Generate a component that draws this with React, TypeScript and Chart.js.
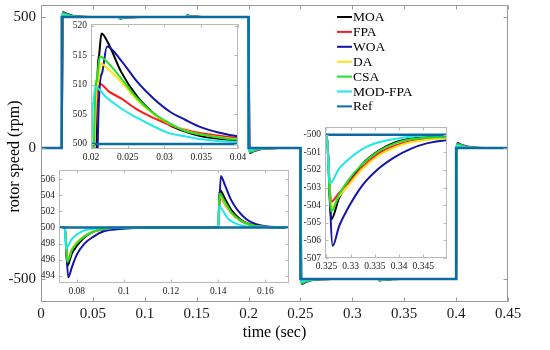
import React, { useEffect, useRef } from 'react';
import { Chart, registerables } from 'chart.js';
Chart.register(...registerables);

type P = [number, number];

const SERIF = '"Liberation Serif", "Times New Roman", serif';

const LABELS = ['MOA', 'FPA', 'WOA', 'DA', 'CSA', 'MOD-FPA', 'Ref'];
const COLORS = ['#000000', '#ff1a1a', '#1414a8', '#ffe01a', '#22e022', '#1ee8e8', '#0d6aa3'];

const X_TITLE = 'time (sec)';
const Y_TITLE = 'rotor speed (rpm)';

const MAIN_X_TICKS = [0, 0.05, 0.1, 0.15, 0.2, 0.25, 0.3, 0.35, 0.4, 0.45];
const MAIN_X_LABELS = ['0', '0.05', '0.1', '0.15', '0.2', '0.25', '0.3', '0.35', '0.4', '0.45'];
const MAIN_Y_TICKS = [-500, 0, 500];
const MAIN_Y_LABELS = ['-500', '0', '500'];

const IN1_X_TICKS = [0.02, 0.025, 0.03, 0.035, 0.04];
const IN1_X_LABELS = ['0.02', '0.025', '0.03', '0.035', '0.04'];
const IN1_Y_TICKS = [500, 505, 510, 515, 520];
const IN1_Y_LABELS = ['500', '505', '510', '515', '520'];

const IN2_X_TICKS = [0.08, 0.1, 0.12, 0.14, 0.16];
const IN2_X_LABELS = ['0.08', '0.1', '0.12', '0.14', '0.16'];
const IN2_Y_TICKS = [494, 496, 498, 500, 502, 504, 506];
const IN2_Y_LABELS = ['494', '496', '498', '500', '502', '504', '506'];

const IN3_X_TICKS = [0.325, 0.33, 0.335, 0.34, 0.345];
const IN3_X_LABELS = ['0.325', '0.33', '0.335', '0.34', '0.345'];
const IN3_Y_TICKS = [-507, -506, -505, -504, -503, -502, -501, -500];
const IN3_Y_LABELS = ['-507', '-506', '-505', '-504', '-503', '-502', '-501', '-500'];

const REF: P[] = [[0, 0], [0.02, 0], [0.02, 500], [0.2, 500], [0.2, 0], [0.25, 0], [0.25, -500], [0.4, -500], [0.4, 0], [0.45, 0]];

const MOA: P[] = [
  [0, 0], [0.02, 0], [0.0207, 499], [0.0211, 515], [0.02143, 518.7], [0.0224, 516.9], [0.0241, 512.2], [0.0263, 508.0], [0.0285, 505.2], [0.0307, 503.2], [0.0328, 502.1], [0.035, 501.3], [0.04, 500.6], [0.05, 500.1], [0.075, 500],
  [0.076, 495.2], [0.078, 496.8], [0.08, 497.7], [0.0833, 498.8], [0.0873, 499.5], [0.0912, 499.75], [0.098, 499.95], [0.14, 500],
  [0.1406, 504.7], [0.1428, 503.6], [0.1455, 502.2], [0.1494, 501.0], [0.1534, 500.4], [0.1574, 500.15], [0.165, 500.02], [0.2, 500],
  [0.2007, 1], [0.20143, -18.7], [0.2041, -12.2], [0.2085, -5.2], [0.215, -1.3], [0.23, -0.1], [0.25, 0],
  [0.2507, -499], [0.25143, -518.7], [0.2541, -512.2], [0.2585, -505.2], [0.265, -501.3], [0.28, -500.1], [0.325, -500],
  [0.326, -504.8], [0.3276, -503.6], [0.3293, -502.85], [0.3325, -501.64], [0.3358, -500.9], [0.3391, -500.43], [0.3424, -500.22], [0.35, -500.1], [0.36, -500.02], [0.4, -500],
  [0.4007, -1], [0.40143, 18.7], [0.4041, 12.2], [0.4085, 5.2], [0.415, 1.3], [0.43, 0.1], [0.45, 0],
];

const FPA: P[] = [
  [0, 0], [0.02, 0], [0.0205, 499], [0.0209, 508], [0.0212, 510.2], [0.0224, 508.9], [0.0241, 507.7], [0.0263, 505.8], [0.0285, 504.4], [0.0307, 503.2], [0.0328, 502.4], [0.035, 501.8], [0.04, 501.0], [0.045, 500.5], [0.05, 500.2], [0.06, 500.03], [0.075, 500],
  [0.0761, 496.0], [0.078, 497.3], [0.08, 498.1], [0.0833, 498.9], [0.0873, 499.5], [0.0912, 499.8], [0.1, 499.97], [0.14, 500],
  [0.1406, 503.8], [0.1428, 502.9], [0.1455, 501.8], [0.1494, 500.85], [0.1534, 500.35], [0.1574, 500.12], [0.165, 500.02], [0.2, 500],
  [0.2005, 1], [0.2012, -10.2], [0.2041, -7.7], [0.2085, -4.4], [0.215, -1.8], [0.23, -0.3], [0.25, 0],
  [0.2505, -499], [0.2512, -510.2], [0.2541, -507.7], [0.2585, -504.4], [0.265, -501.8], [0.28, -500.3], [0.325, -500],
  [0.326, -503.8], [0.3276, -503.3], [0.3293, -502.85], [0.3325, -501.83], [0.3358, -501.05], [0.3391, -500.62], [0.3424, -500.37], [0.35, -500.15], [0.36, -500.04], [0.4, -500],
  [0.4005, -1], [0.4012, 10.2], [0.4041, 7.7], [0.4085, 4.4], [0.415, 1.8], [0.43, 0.3], [0.45, 0],
];

const WOA: P[] = [
  [0, 0], [0.02, 0], [0.0209, 499], [0.0215, 512], [0.02217, 516.5], [0.0241, 514.1], [0.0263, 510.5], [0.0285, 507.7], [0.0307, 505.5], [0.0328, 504.1], [0.035, 502.8], [0.0372, 502.0], [0.04, 501.3], [0.045, 500.6], [0.05, 500.25], [0.06, 500.03], [0.075, 500],
  [0.0764, 493.8], [0.078, 495.1], [0.08, 496.6], [0.0833, 498.0], [0.0873, 498.9], [0.0912, 499.5], [0.098, 499.8], [0.1045, 499.95], [0.115, 500], [0.14, 500],
  [0.1411, 506.4], [0.1428, 505.3], [0.1455, 503.4], [0.1481, 502.2], [0.1521, 501.0], [0.1561, 500.4], [0.16, 500.15], [0.1653, 500.05], [0.175, 500], [0.2, 500],
  [0.2009, 1], [0.20217, -16.5], [0.2063, -10.5], [0.2107, -5.5], [0.22, -1.3], [0.23, -0.25], [0.25, 0],
  [0.2509, -499], [0.25217, -516.5], [0.2563, -510.5], [0.2607, -505.5], [0.27, -501.3], [0.28, -500.25], [0.325, -500],
  [0.3263, -506.3], [0.3276, -505.2], [0.3293, -504.25], [0.3325, -502.85], [0.3358, -501.92], [0.3391, -501.27], [0.3424, -500.8], [0.3457, -500.49], [0.35, -500.3], [0.36, -500.08], [0.38, -500], [0.4, -500],
  [0.4009, -1], [0.40217, 16.5], [0.4063, 10.5], [0.4107, 5.5], [0.42, 1.3], [0.43, 0.25], [0.45, 0],
];

const DA: P[] = [
  [0, 0], [0.02, 0], [0.0205, 499], [0.0209, 510], [0.0213, 513.6], [0.0224, 512.6], [0.0241, 510.5], [0.0263, 507.4], [0.0285, 505.1], [0.0307, 503.4], [0.0328, 502.3], [0.035, 501.6], [0.04, 500.8], [0.05, 500.15], [0.075, 500],
  [0.0761, 495.9], [0.078, 497.3], [0.08, 498.1], [0.0833, 498.95], [0.0873, 499.5], [0.0912, 499.8], [0.1, 499.97], [0.14, 500],
  [0.1406, 503.9], [0.1428, 503.0], [0.1455, 501.8], [0.1494, 500.85], [0.1534, 500.35], [0.1574, 500.12], [0.165, 500.02], [0.2, 500],
  [0.2005, 1], [0.2013, -13.6], [0.2041, -10.5], [0.2085, -5.1], [0.215, -1.6], [0.23, -0.15], [0.25, 0],
  [0.2505, -499], [0.2513, -513.6], [0.2541, -510.5], [0.2585, -505.1], [0.265, -501.6], [0.28, -500.15], [0.325, -500],
  [0.326, -504.16], [0.3276, -503.5], [0.3293, -502.95], [0.3325, -501.92], [0.3358, -501.18], [0.3391, -500.71], [0.3424, -500.43], [0.35, -500.19], [0.36, -500.05], [0.4, -500],
  [0.4005, -1], [0.4013, 13.6], [0.4041, 10.5], [0.4085, 5.1], [0.415, 1.6], [0.43, 0.15], [0.45, 0],
];

const CSA: P[] = [
  [0, 0], [0.02, 0], [0.0204, 499], [0.0208, 511], [0.0212, 514.8], [0.0224, 513.6], [0.0241, 511.1], [0.0263, 507.7], [0.0285, 505.2], [0.0307, 503.5], [0.0328, 502.2], [0.035, 501.6], [0.04, 500.7], [0.05, 500.1], [0.075, 500],
  [0.076, 495.7], [0.078, 497.2], [0.08, 498.0], [0.0833, 498.9], [0.0873, 499.5], [0.0912, 499.8], [0.1, 499.97], [0.14, 500],
  [0.1406, 504.2], [0.1428, 503.2], [0.1455, 501.9], [0.1494, 500.85], [0.1534, 500.35], [0.1574, 500.12], [0.165, 500.02], [0.2, 500],
  [0.2004, 1], [0.2012, -14.8], [0.2041, -11.1], [0.2085, -5.2], [0.215, -1.6], [0.23, -0.1], [0.25, 0],
  [0.2504, -499], [0.2512, -514.8], [0.2541, -511.1], [0.2585, -505.2], [0.265, -501.6], [0.28, -500.1], [0.325, -500],
  [0.326, -504.35], [0.3276, -503.4], [0.3293, -502.66], [0.3325, -501.64], [0.3358, -500.93], [0.3391, -500.49], [0.3424, -500.26], [0.35, -500.12], [0.36, -500.02], [0.4, -500],
  [0.4004, -1], [0.4012, 14.8], [0.4041, 11.1], [0.4085, 5.2], [0.415, 1.6], [0.43, 0.1], [0.45, 0],
];

const MODFPA: P[] = [
  [0, 0], [0.02, 0], [0.0201, 499], [0.0203, 507], [0.02057, 509.7], [0.022, 508.0], [0.0241, 506.0], [0.0263, 504.4], [0.0285, 503.0], [0.0307, 501.8], [0.0328, 501.3], [0.035, 500.8], [0.04, 500.3], [0.05, 500.05], [0.075, 500],
  [0.0754, 497.4], [0.078, 498.6], [0.082, 499.5], [0.086, 499.8], [0.095, 499.97], [0.14, 500],
  [0.1402, 502.6], [0.1442, 501.1], [0.1494, 500.3], [0.156, 500.05], [0.2, 500],
  [0.2001, 1], [0.20057, -9.7], [0.2041, -6], [0.2085, -3], [0.215, -0.8], [0.23, 0], [0.25, 0],
  [0.2501, -499], [0.25057, -509.7], [0.2541, -506], [0.2585, -503], [0.265, -500.8], [0.28, -500], [0.325, -500],
  [0.3257, -502.76], [0.3276, -501.92], [0.3293, -501.46], [0.3325, -500.8], [0.3358, -500.43], [0.3391, -500.24], [0.3424, -500.11], [0.35, -500.03], [0.4, -500],
  [0.4001, -1], [0.40057, 9.7], [0.4041, 6], [0.4085, 3], [0.415, 0.8], [0.43, 0], [0.45, 0],
];

const SERIES: P[][] = [MOA, FPA, WOA, DA, CSA, MODFPA, REF];

function makeDatasets(lw: number, refLw: number) {
  return SERIES.map((pts, i) => {
    const isRef = i === SERIES.length - 1;
    return {
      label: LABELS[i],
      data: pts.map(([x, y]) => ({ x, y })),
      borderColor: COLORS[i],
      backgroundColor: COLORS[i],
      borderWidth: isRef ? refLw : lw,
      pointRadius: 0,
      fill: false,
      tension: 0,
      cubicInterpolationMode: isRef ? 'default' : 'monotone',
      order: SERIES.length - 1 - i,
    };
  });
}

function framePlugin(color: string, tickLen: number, bgWhole: boolean) {
  return {
    id: 'frame',
    beforeDraw(chart: any) {
      const { ctx, chartArea: a } = chart;
      ctx.save();
      ctx.fillStyle = '#ffffff';
      if (bgWhole) ctx.fillRect(0, 0, chart.width, chart.height);
      else ctx.fillRect(a.left, a.top, a.right - a.left, a.bottom - a.top);
      ctx.restore();
    },
    afterDatasetsDraw(chart: any) {
      const { ctx, chartArea: a, scales } = chart;
      ctx.save();
      ctx.strokeStyle = color;
      ctx.lineWidth = 1;
      const L = Math.round(a.left) + 0.5, R = Math.round(a.right) - 0.5;
      const T = Math.round(a.top) + 0.5, B = Math.round(a.bottom) - 0.5;
      ctx.strokeRect(L, T, R - L, B - T);
      ctx.beginPath();
      scales.x.ticks.forEach((t: any) => {
        const x = Math.round(scales.x.getPixelForValue(t.value)) + 0.5;
        ctx.moveTo(x, B); ctx.lineTo(x, B - tickLen);
        ctx.moveTo(x, T); ctx.lineTo(x, T + tickLen);
      });
      scales.y.ticks.forEach((t: any) => {
        const y = Math.round(scales.y.getPixelForValue(t.value)) + 0.5;
        ctx.moveTo(L, y); ctx.lineTo(L + tickLen, y);
        ctx.moveTo(R, y); ctx.lineTo(R - tickLen, y);
      });
      ctx.stroke();
      ctx.restore();
    },
  };
}

const mainDecor = {
  id: 'mainDecor',
  afterDraw(chart: any) {
    const { ctx, chartArea: a } = chart;
    ctx.save();
    ctx.font = `13.5px ${SERIF}`;
    ctx.textBaseline = 'middle';
    ctx.textAlign = 'left';
    LABELS.forEach((lab, i) => {
      const y = 17 + i * 14.9;
      ctx.strokeStyle = COLORS[i];
      ctx.lineWidth = 2;
      ctx.beginPath();
      ctx.moveTo(337, y);
      ctx.lineTo(352, y);
      ctx.stroke();
      ctx.fillStyle = '#000';
      ctx.fillText(lab, 353, y + 0.5);
    });
    ctx.font = `16px ${SERIF}`;
    ctx.textAlign = 'center';
    ctx.fillStyle = '#000';
    ctx.fillText(X_TITLE, (a.left + a.right) / 2, 333);
    ctx.translate(15, (a.top + a.bottom) / 2 + 3);
    ctx.rotate(-Math.PI / 2);
    ctx.fillText(Y_TITLE, 0, 0);
    ctx.restore();
  },
};

function axis(min: number, max: number, ticks: number[], labels: string[], size: number, pad: number, fit: (s: any) => void) {
  return {
    type: 'linear',
    min,
    max,
    afterBuildTicks: (s: any) => { s.ticks = ticks.map((value) => ({ value })); },
    afterFit: (s: any) => { fit(s); s.paddingTop = 0; s.paddingBottom = 0; s.paddingLeft = 0; s.paddingRight = 0; },
    grid: { display: false, drawTicks: false, tickLength: 0 },
    border: { display: false },
    ticks: {
      autoSkip: false,
      maxRotation: 0,
      minRotation: 0,
      padding: pad,
      color: '#1a1a1a',
      font: { family: SERIF, size },
      callback: (_v: any, i: number) => labels[i],
    },
  };
}

function mainConfig(): any {
  return {
    type: 'line',
    data: { datasets: makeDatasets(2, 2.5) },
    options: {
      animation: false,
      responsive: false,
      devicePixelRatio: 1,
      events: [],
      layout: { padding: { top: 5, right: 42, left: 0, bottom: 0 } },
      plugins: { legend: { display: false }, tooltip: { enabled: false } },
      scales: {
        x: axis(0, 0.45, MAIN_X_TICKS, MAIN_X_LABELS, 15, 3, (s) => { s.height = 48; }),
        y: axis(-588, 546, MAIN_Y_TICKS, MAIN_Y_LABELS, 15, 5, (s) => { s.width = 41; }),
      },
    },
    plugins: [framePlugin('#9a9a9a', 4, true), mainDecor],
  };
}

type Box = { l: number; t: number; r: number; b: number };
const PAD_L = 26, PAD_T = 4, PAD_R = 12, PAD_B = 18;

function insetConfig(xr: [number, number], yr: [number, number], xt: number[], xl: string[], yt: number[], yl: string[]): any {
  return {
    type: 'line',
    data: { datasets: makeDatasets(2, 2.5) },
    options: {
      animation: false,
      responsive: false,
      devicePixelRatio: 1,
      events: [],
      layout: { padding: { top: PAD_T, right: PAD_R, left: 0, bottom: 0 } },
      plugins: { legend: { display: false }, tooltip: { enabled: false } },
      scales: {
        x: axis(xr[0], xr[1], xt, xl, 9.5, 3, (s) => { s.height = PAD_B; }),
        y: axis(yr[0], yr[1], yt, yl, 9.5, 4, (s) => { s.width = PAD_L; }),
      },
    },
    plugins: [framePlugin('#b8b8b8', 3, false)],
  };
}

function ChartCanvas({ left, top, width, height, make }: { left: number; top: number; width: number; height: number; make: () => any }) {
  const ref = useRef<HTMLCanvasElement | null>(null);
  useEffect(() => {
    const chart = new Chart(ref.current as HTMLCanvasElement, make());
    return () => chart.destroy();
  }, []);
  return (
    <canvas
      ref={ref}
      width={width}
      height={height}
      style={{ position: 'absolute', left, top, width, height, display: 'block' }}
    />
  );
}

function Inset({ box, make }: { box: Box; make: () => any }) {
  return (
    <ChartCanvas
      left={box.l - PAD_L}
      top={box.t - PAD_T}
      width={box.r - box.l + PAD_L + PAD_R}
      height={box.b - box.t + PAD_T + PAD_B}
      make={make}
    />
  );
}

const BOX1: Box = { l: 91, t: 24, r: 238, b: 149 };
const BOX2: Box = { l: 59, t: 170, r: 289, b: 283 };
const BOX3: Box = { l: 325, t: 127, r: 447, b: 258 };

export default function App() {
  useEffect(() => {
    document.body.style.margin = '0';
  }, []);
  return (
    <div style={{ position: 'relative', width: 550, height: 350, background: '#fff', overflow: 'hidden' }}>
      <ChartCanvas left={0} top={0} width={550} height={350} make={mainConfig} />
      <Inset box={BOX1} make={() => insetConfig([0.02, 0.04], [499.15, 520.3], IN1_X_TICKS, IN1_X_LABELS, IN1_Y_TICKS, IN1_Y_LABELS)} />
      <Inset box={BOX2} make={() => insetConfig([0.0725, 0.17], [493.1, 507.15], IN2_X_TICKS, IN2_X_LABELS, IN2_Y_TICKS, IN2_Y_LABELS)} />
      <Inset box={BOX3} make={() => insetConfig([0.3247, 0.3499], [-507, -499.56], IN3_X_TICKS, IN3_X_LABELS, IN3_Y_TICKS, IN3_Y_LABELS)} />
    </div>
  );
}
